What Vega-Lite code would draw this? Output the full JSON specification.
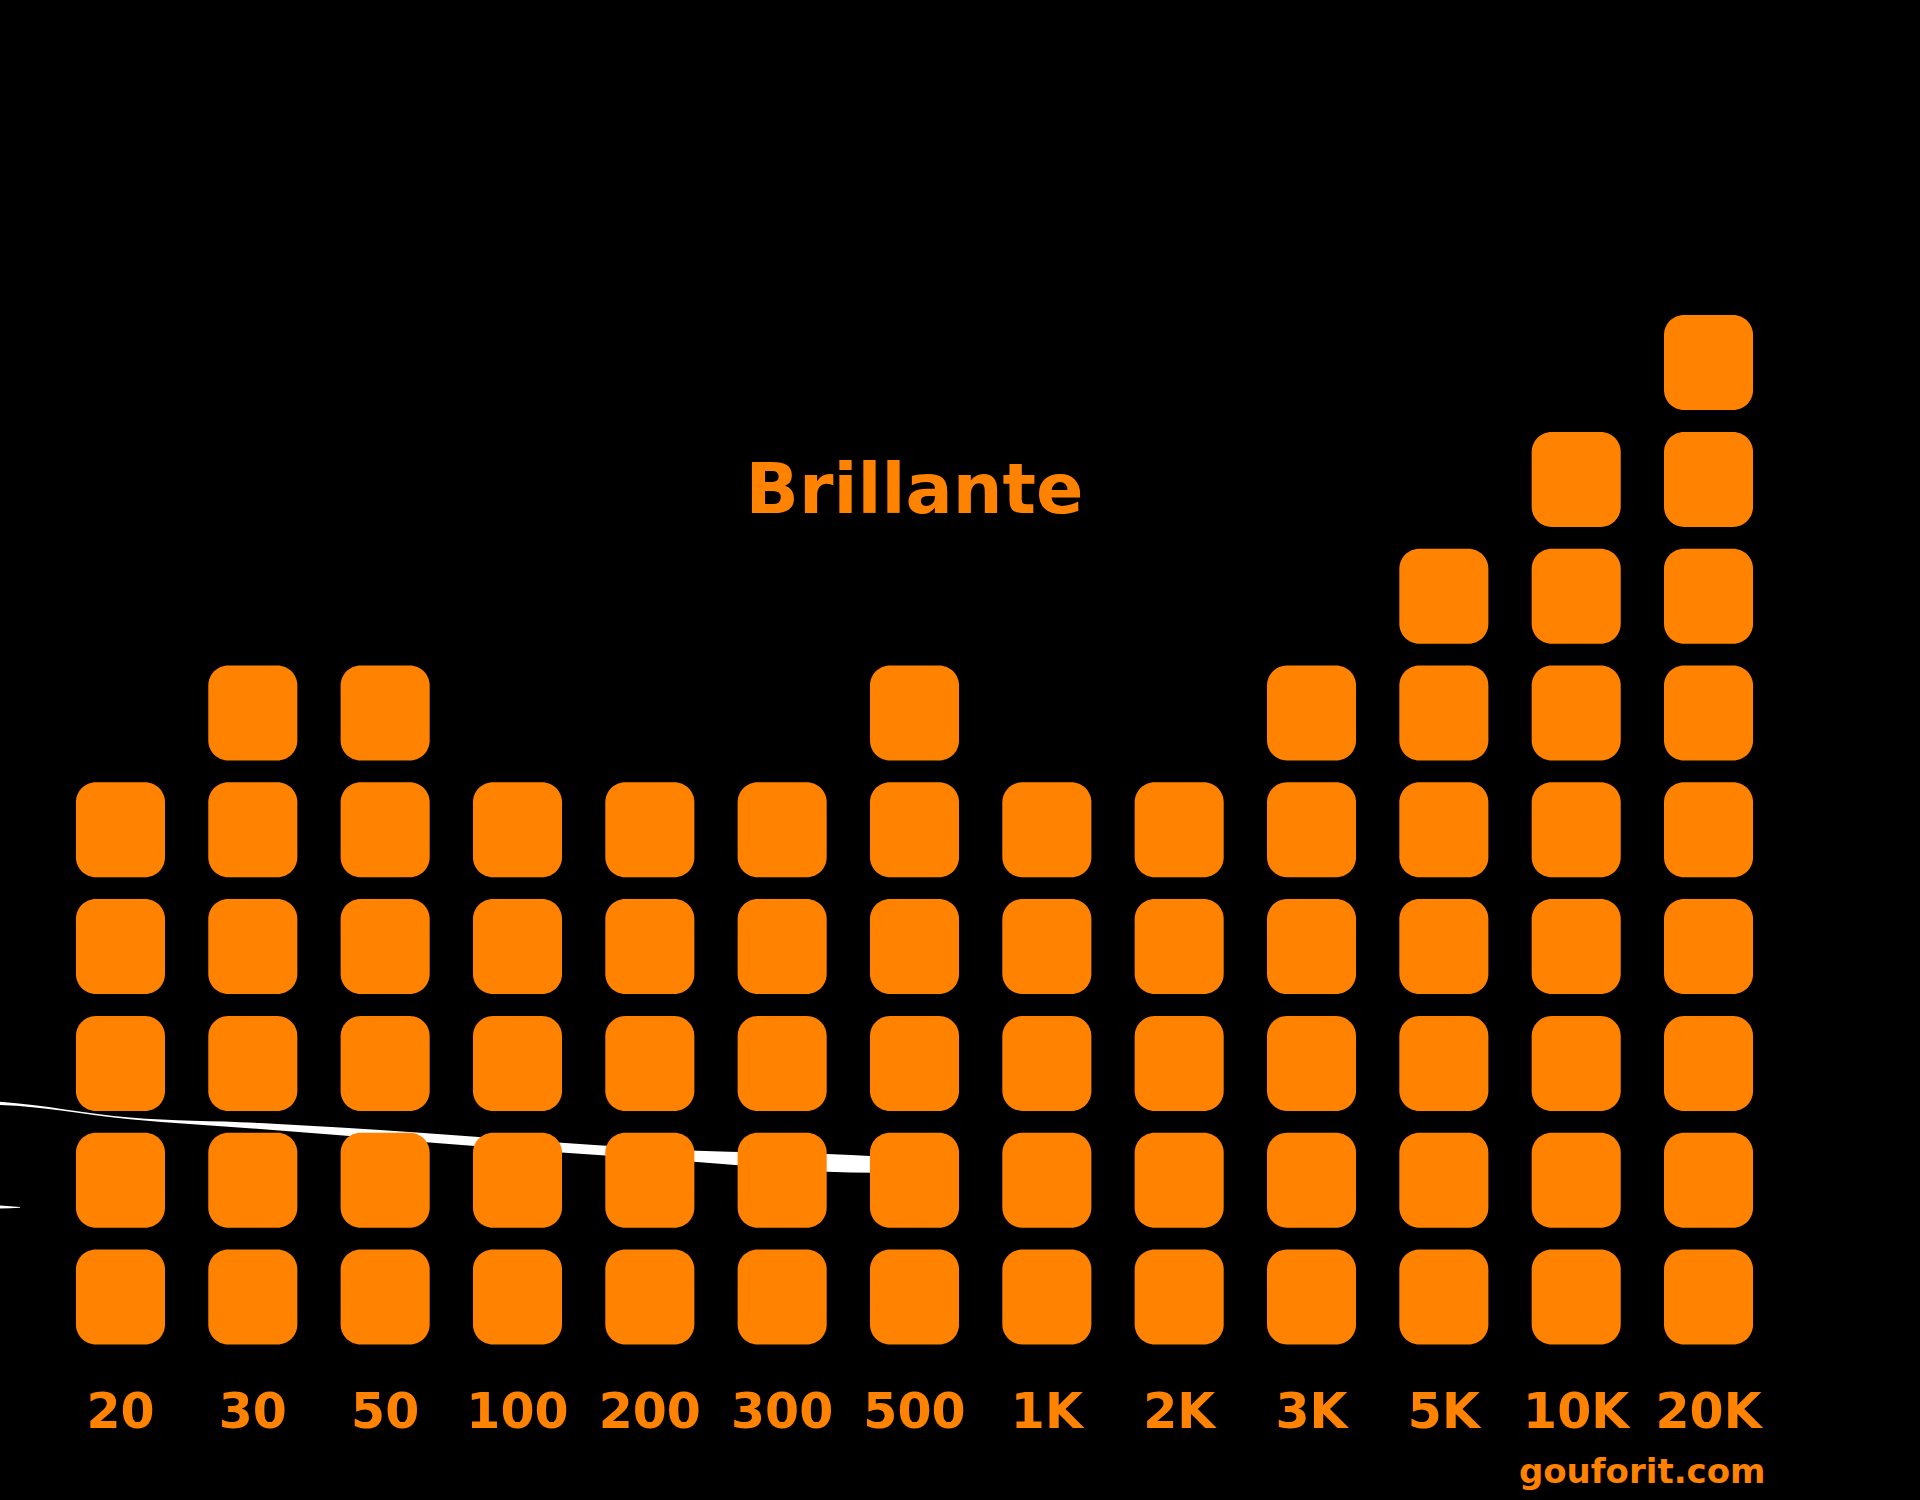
{
  "$schema": "https://vega.github.io/schema/vega-lite/v6.json",
  "autosize": {"type": "none"},
  "width": 1720.4,
  "height": 1051.2,
  "padding": {"left": 54.3, "top": 304.2, "right": 145.3, "bottom": 144.6},
  "background": "#000000",
  "config": {"view": {"stroke": null}},
  "title": {
    "text": "Brillante",
    "font": "DejaVu Sans",
    "fontSize": 70,
    "fontWeight": "bold",
    "color": "#ff8200",
    "anchor": "middle",
    "frame": "group",
    "baseline": "alphabetic",
    "offset": -279
  },
  "datasets": {
    "squares": [
      {"f": "20", "lvl": 1}, {"f": "20", "lvl": 2}, {"f": "20", "lvl": 3}, {"f": "20", "lvl": 4}, {"f": "20", "lvl": 5},
      {"f": "30", "lvl": 1}, {"f": "30", "lvl": 2}, {"f": "30", "lvl": 3}, {"f": "30", "lvl": 4}, {"f": "30", "lvl": 5}, {"f": "30", "lvl": 6},
      {"f": "50", "lvl": 1}, {"f": "50", "lvl": 2}, {"f": "50", "lvl": 3}, {"f": "50", "lvl": 4}, {"f": "50", "lvl": 5}, {"f": "50", "lvl": 6},
      {"f": "100", "lvl": 1}, {"f": "100", "lvl": 2}, {"f": "100", "lvl": 3}, {"f": "100", "lvl": 4}, {"f": "100", "lvl": 5},
      {"f": "200", "lvl": 1}, {"f": "200", "lvl": 2}, {"f": "200", "lvl": 3}, {"f": "200", "lvl": 4}, {"f": "200", "lvl": 5},
      {"f": "300", "lvl": 1}, {"f": "300", "lvl": 2}, {"f": "300", "lvl": 3}, {"f": "300", "lvl": 4}, {"f": "300", "lvl": 5},
      {"f": "500", "lvl": 1}, {"f": "500", "lvl": 2}, {"f": "500", "lvl": 3}, {"f": "500", "lvl": 4}, {"f": "500", "lvl": 5}, {"f": "500", "lvl": 6},
      {"f": "1K", "lvl": 1}, {"f": "1K", "lvl": 2}, {"f": "1K", "lvl": 3}, {"f": "1K", "lvl": 4}, {"f": "1K", "lvl": 5},
      {"f": "2K", "lvl": 1}, {"f": "2K", "lvl": 2}, {"f": "2K", "lvl": 3}, {"f": "2K", "lvl": 4}, {"f": "2K", "lvl": 5},
      {"f": "3K", "lvl": 1}, {"f": "3K", "lvl": 2}, {"f": "3K", "lvl": 3}, {"f": "3K", "lvl": 4}, {"f": "3K", "lvl": 5}, {"f": "3K", "lvl": 6},
      {"f": "5K", "lvl": 1}, {"f": "5K", "lvl": 2}, {"f": "5K", "lvl": 3}, {"f": "5K", "lvl": 4}, {"f": "5K", "lvl": 5}, {"f": "5K", "lvl": 6}, {"f": "5K", "lvl": 7},
      {"f": "10K", "lvl": 1}, {"f": "10K", "lvl": 2}, {"f": "10K", "lvl": 3}, {"f": "10K", "lvl": 4}, {"f": "10K", "lvl": 5}, {"f": "10K", "lvl": 6}, {"f": "10K", "lvl": 7}, {"f": "10K", "lvl": 8},
      {"f": "20K", "lvl": 1}, {"f": "20K", "lvl": 2}, {"f": "20K", "lvl": 3}, {"f": "20K", "lvl": 4}, {"f": "20K", "lvl": 5}, {"f": "20K", "lvl": 6}, {"f": "20K", "lvl": 7}, {"f": "20K", "lvl": 8}, {"f": "20K", "lvl": 9}
    ],
    "curve": [
      {"seg": "a", "x": -0.45, "hi": 2.175, "lo": 2.145},
      {"seg": "a", "x": -0.41, "hi": 2.172, "lo": 2.144},
      {"seg": "a", "x": 0.572, "hi": 2.037, "lo": 2.022},
      {"seg": "a", "x": 1.555, "hi": 1.99, "lo": 1.938},
      {"seg": "a", "x": 2.764, "hi": 1.907, "lo": 1.83},
      {"seg": "a", "x": 3.86, "hi": 1.818, "lo": 1.735},
      {"seg": "a", "x": 4.858, "hi": 1.753, "lo": 1.656},
      {"seg": "a", "x": 5.334, "hi": 1.737, "lo": 1.613},
      {"seg": "a", "x": 5.84, "hi": 1.724, "lo": 1.573},
      {"seg": "a", "x": 6.2, "hi": 1.706, "lo": 1.563},
      {"seg": "b", "x": -0.45, "hi": 1.285, "lo": 1.257},
      {"seg": "b", "x": -0.41, "hi": 1.283, "lo": 1.258},
      {"seg": "b", "x": -0.259, "hi": 1.27, "lo": 1.265}
    ]
  },
  "layer": [
    {
      "data": {"name": "curve"},
      "mark": {"type": "area", "color": "#ffffff", "interpolate": "monotone"},
      "encoding": {
        "x": {"field": "x", "type": "quantitative", "axis": null, "scale": {"domain": [0, 13], "nice": false, "zero": false}},
        "y": {"field": "hi", "type": "quantitative", "axis": null, "scale": {"domain": [0, 9], "nice": false, "zero": false}},
        "y2": {"field": "lo"},
        "detail": {"field": "seg", "type": "nominal"}
      }
    },
    {
      "data": {"name": "squares"},
      "mark": {"type": "rect", "color": "#ff8200", "cornerRadius": 20},
      "encoding": {
        "x": {
          "field": "f",
          "type": "ordinal",
          "sort": ["20", "30", "50", "100", "200", "300", "500", "1K", "2K", "3K", "5K", "10K", "20K"],
          "scale": {"paddingInner": 0.327, "paddingOuter": 0.1635},
          "axis": {
            "title": "gouforit.com",
            "titleFont": "DejaVu Sans",
            "titleFontSize": 34,
            "titleFontWeight": "bold",
            "titleColor": "#ff8200",
            "titleAlign": "right",
            "titleBaseline": "alphabetic",
            "titleX": 1710.7,
            "titleY": 127.6,
            "labelFont": "DejaVu Sans",
            "labelFontSize": 49,
            "labelFontWeight": "bold",
            "labelColor": "#ff8200",
            "labelBaseline": "alphabetic",
            "labelPadding": 72.6,
            "labelAngle": 0,
            "labelOverlap": false,
            "ticks": false,
            "domain": false,
            "grid": false
          }
        },
        "y": {
          "field": "lvl",
          "type": "ordinal",
          "scale": {"domain": [9, 8, 7, 6, 5, 4, 3, 2, 1], "paddingInner": 0.187, "paddingOuter": 0.0935},
          "axis": null
        }
      }
    }
  ],
  "resolve": {"scale": {"x": "independent", "y": "independent"}, "axis": {"x": "independent", "y": "independent"}}
}
